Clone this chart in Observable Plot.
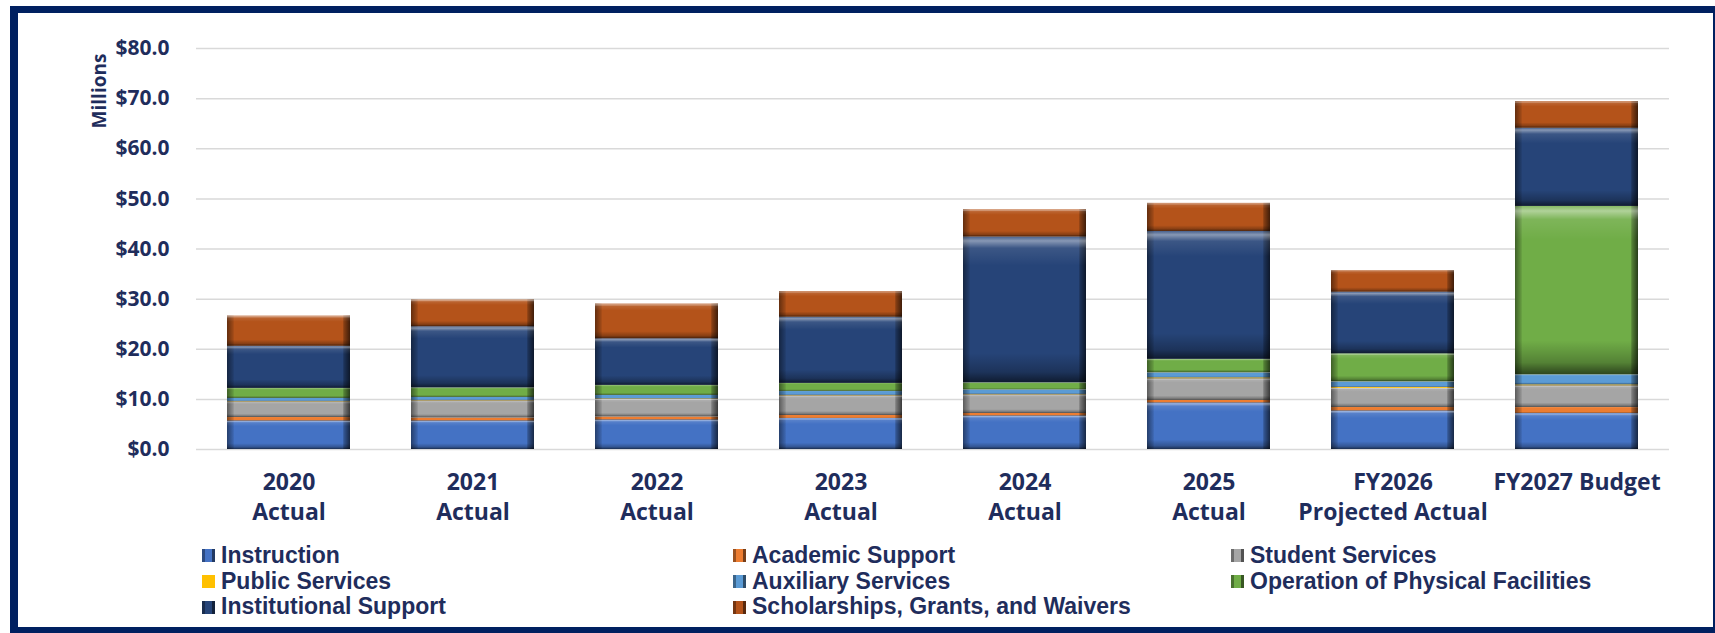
<!DOCTYPE html>
<html>
<head>
<meta charset="utf-8">
<script src="https://cdn.jsdelivr.net/npm/d3@7"></script>
<script src="https://cdn.jsdelivr.net/npm/@observablehq/plot@0.6"></script>
<style>
  html, body { margin: 0; padding: 0; background: #fff; }
  body { position: relative; width: 1715px; height: 633px; overflow: hidden; font-family: "Open Sans", sans-serif; }
  #frame { position: absolute; left: 10px; top: 6px; width: 1705px; height: 627px; box-sizing: border-box;
           border-style: solid; border-color: #002060; border-width: 7px 2px 6px 8px; }
  #chart { position: absolute; left: 0; top: 0; }
  #legend { position: absolute; left: 0; top: 543px; width: 1715px; font-family: "Liberation Sans", Arial, sans-serif;
            font-weight: 700; font-size: 23px; color: #1f2d5c; }
  .item { position: absolute; height: 25.7px; line-height: 25.7px; white-space: nowrap; display: flex; align-items: center; }
  .sw { width: 13px; height: 13px; margin-right: 6px; box-sizing: border-box; flex: none; }
</style>
</head>
<body>
<div id="frame"></div>
<div id="chart"></div>
<div id="legend"></div>
<script>
// ---- data ----
const categories = ["2020\nActual", "2021\nActual", "2022\nActual", "2023\nActual", "2024\nActual", "2025\nActual", "FY2026\nProjected Actual", "FY2027 Budget"];
const series = ["Instruction", "Academic Support", "Student Services", "Public Services", "Auxiliary Services", "Operation of Physical Facilities", "Institutional Support", "Scholarships, Grants, and Waivers"];
const colors = ["#4472c4", "#ed7d31", "#a5a5a5", "#ffc000", "#5b9bd5", "#70ad47", "#264478", "#b4531a"];
const instruction   = [5.7, 5.7, 5.9, 6.2, 6.7, 9.3, 7.7, 7.2];
const academic      = [0.7, 0.6, 0.6, 0.6, 0.5, 0.5, 0.7, 1.2];
const student       = [3.1, 3.4, 3.5, 3.9, 3.7, 4.3, 3.8, 4.3];
const publicSvc     = [0.1, 0.1, 0.1, 0.1, 0.1, 0.2, 0.2, 0.2];
const auxiliary     = [0.6, 0.6, 0.7, 0.8, 0.9, 1.0, 1.1, 2.0];
const operation     = [2.0, 1.9, 2.0, 1.6, 1.4, 2.7, 5.6, 33.6];
const institutional = [8.4, 12.2, 9.3, 13.2, 29.1, 25.5, 12.3, 15.6];
const scholarships  = [6.0, 5.3, 6.9, 5.1, 5.4, 5.6, 4.3, 5.3];
const yTicks = [0, 10, 20, 30, 40, 50, 60, 70, 80];
const yLabel = "Millions";

const valuesBySeries = [instruction, academic, student, publicSvc, auxiliary, operation, institutional, scholarships];
const data = series.flatMap((s, i) => categories.map((c, j) => ({category: c, series: s, value: valuesBySeries[i][j]})));

const navy = "#1f2d5c";
const barOpts = {x: "category", y: "value", z: "series"};

const chart = Plot.plot({
  width: 1715, height: 530,
  marginLeft: 196, marginRight: 46, marginTop: 48, marginBottom: 81,
  style: {fontFamily: "Open Sans, sans-serif", color: navy, background: "transparent", overflow: "visible"},
  x: {domain: categories, paddingInner: 0.33, paddingOuter: 0.165, label: null},
  y: {domain: [0, 80], label: null},
  color: {domain: series, range: colors},
  marks: [
    Plot.gridY(yTicks, {stroke: "#d9d9d9", strokeOpacity: 1, strokeWidth: 1.5}),
    Plot.barY(data, {...barOpts, fill: "series"}),
    Plot.barY(data, {...barOpts, fill: "url(#hshade)"}),
    Plot.barY(data, {...barOpts, fill: "url(#vshade)"}),
    Plot.axisY(yTicks, {tickSize: 0, tickPadding: 27, tickFormat: d => "$" + d.toFixed(1),
      fontSize: 21, fontWeight: 700, fill: navy}),
    Plot.axisX({tickSize: 0, tickPadding: 19.5, fontSize: 23, fontWeight: 700, lineHeight: 1.3, fill: navy}),
    Plot.text([yLabel], {frameAnchor: "top-left", dx: -96.5, dy: 42.5, rotate: -90,
      textAnchor: "middle", lineAnchor: "middle", fontSize: 19, fontWeight: 700, fill: navy})
  ]
});

// bevel-like shading gradients
const ns = "http://www.w3.org/2000/svg";
const defs = document.createElementNS(ns, "defs");
function grad(id, horiz, stops) {
  const g = document.createElementNS(ns, "linearGradient");
  g.setAttribute("id", id);
  g.setAttribute("x1", 0); g.setAttribute("y1", 0);
  g.setAttribute("x2", horiz ? 1 : 0); g.setAttribute("y2", horiz ? 0 : 1);
  for (const [o, c, a] of stops) {
    const s = document.createElementNS(ns, "stop");
    s.setAttribute("offset", o); s.setAttribute("stop-color", c); s.setAttribute("stop-opacity", a);
    g.appendChild(s);
  }
  defs.appendChild(g);
}
grad("hshade", true, [[0, "#000", 0.45], [0.05, "#000", 0.12], [0.06, "#000", 0], [0.94, "#000", 0], [0.95, "#000", 0.25], [1, "#000", 0.65]]);
grad("vshade", false, [[0, "#fff", 0.15], [0.03, "#fff", 0.45], [0.08, "#fff", 0.1], [0.2, "#fff", 0], [0.8, "#000", 0], [0.93, "#000", 0.25], [1, "#000", 0.6]]);
chart.insertBefore(defs, chart.firstChild);
document.getElementById("chart").appendChild(chart);

// legend (3 columns, row-major)
const legend = document.getElementById("legend");
const colX = [202, 733, 1231];
series.forEach((s, i) => {
  const item = document.createElement("div");
  item.className = "item";
  item.style.left = colX[i % 3] + "px";
  item.style.top = (Math.floor(i / 3) * 25.7) + "px";
  const sw = document.createElement("span");
  sw.className = "sw";
  const c = colors[i];
  sw.style.background = s === "Public Services" ? c :
    `linear-gradient(90deg, rgba(0,0,0,0.35) 0 25%, rgba(0,0,0,0) 25% 75%, rgba(0,0,0,0.5) 75%), ${c}`;
  item.appendChild(sw);
  const t = document.createElement("span");
  t.textContent = s;
  item.appendChild(t);
  legend.appendChild(item);
});
</script>
</body>
</html>
